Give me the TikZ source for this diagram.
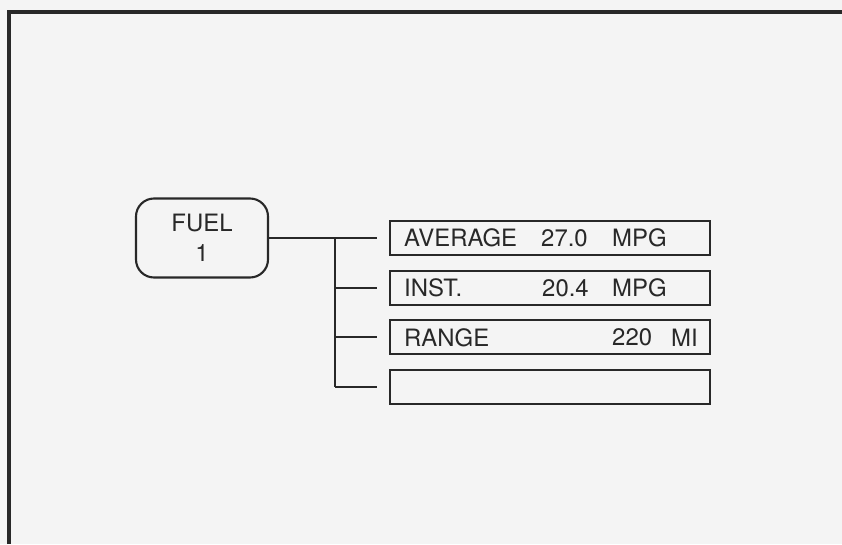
\documentclass[tikz,border=0pt]{standalone}
\usepackage{fontspec}
\setmainfont{TeX Gyre Heros}
\usepackage{xcolor}
\usetikzlibrary{positioning,calc}
\definecolor{ink}{HTML}{282828}
\definecolor{paper}{HTML}{F4F4F4}

\begin{document}
\begin{tikzpicture}[
    ink line/.style={draw=ink, line width=1.5pt},
    menu/.style={draw=ink, line width=1.5pt, rounded corners=0.45cm, minimum width=3.3cm, minimum height=1.975cm, align=center, font=\fontsize{17}{21}\selectfont, text=ink},
    entry/.style={draw=ink, line width=1.5pt, minimum width=8cm, minimum height=0.85cm, inner sep=0pt},
    field/.style={anchor=west, inner sep=0pt, font=\fontsize{17}{19}\selectfont, text=ink}
]
\fill[paper] (0,0) rectangle (21.05,-13.6);
\useasboundingbox (0,0) rectangle (21.05,-13.6);
% outer frame, cut off at right and bottom
\draw[ink, line width=2.8pt] (0.225,-13.6) -- (0.225,-0.3) -- (21.05,-0.3);

\node[menu] (fuel) at (5.05,-5.95) {FUEL\\1};
\node[entry] (avg) at (13.75,-5.95) {};
\node[entry, below=0.34cm of avg] (inst) {};
\node[entry, below=0.34cm of inst] (range) {};
\node[entry, below=0.34cm of range] (blank) {};

\node[field] (avgname) at ($(avg.west)+(0.375,0)$) {AVERAGE};
\node[field] (avgval) at ($(avg.west)+(3.8,0)$) {27.0};
\node[field] (avgunit) at ($(avg.west)+(5.575,0)$) {MPG};
\node[field] (instname) at ($(inst.west)+(0.375,0)$) {INST.};
\node[field] (instval) at ($(inst.west)+(3.825,0)$) {20.4};
\node[field] (instunit) at ($(inst.west)+(5.575,0)$) {MPG};
\node[field] (rangename) at ($(range.west)+(0.375,0)$) {RANGE};
\node[field] (rangeval) at ($(range.west)+(5.575,0)$) {220};
\node[field] (rangeunit) at ($(range.west)+(7.05,0)$) {MI};

% tree from the menu to the entries
\coordinate (trunk) at (8.375,-5.95);
\draw[ink line, shorten >=0.3cm] (fuel.east) -- (avg.west);
\draw[ink line] (trunk) -- (trunk |- blank.west);
\foreach \n in {inst,range,blank}
    \draw[ink line, shorten >=0.3cm] (trunk |- \n.west) -- (\n.west);
\end{tikzpicture}
\end{document}
